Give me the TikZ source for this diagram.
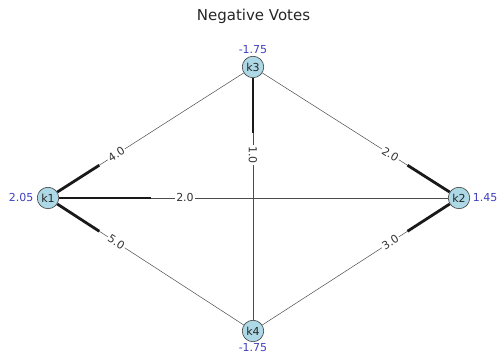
\documentclass[tikz,border=0pt]{standalone}
\usepackage{fontspec}
\setmainfont{DejaVu Sans}
\definecolor{nodeblue}{HTML}{ADD8E6}
\definecolor{votecol}{HTML}{4040BF}
\begin{document}
\begin{tikzpicture}[x=1pt, y=-1pt, font=\fontsize{11}{13}\selectfont, line join=round,
	vertex/.style={circle, draw=black!75, fill=nodeblue, inner sep=0pt, minimum size=21.5pt, line width=0.6pt, text=black!85},
	thinedge/.style={draw=black!70, line width=0.5pt},
	thickedge/.style={draw=black!90, line width=2.8pt},
	weight/.style={fill=white, inner sep=1.2pt, sloped, text=black!80},
	vote/.style={text=votecol}]
	\useasboundingbox (0,0) rectangle (499,352);
	\node[anchor=base, text=black!85, font=\fontsize{15}{18}\selectfont] (title) at (253.5,21) {Negative Votes};
	\foreach \n/\x/\y in {k1/48/198, k2/459/198, k3/253/67, k4/253/331}
		\node[vertex] (\n) at (\x,\y) {\n};
	% votes
	\node[vote, anchor=east] (v1) at (k1.west) {2.05};
	\node[vote, anchor=west, inner sep=2.6pt] (v2) at (k2.east) {1.45};
	\node[vote, anchor=south, inner sep=2.5pt] (v3) at (k3.north) {-1.75};
	\node[vote, anchor=north, inner sep=1.5pt] (v4) at (k4.south) {-1.75};
	% edges, thick end at the source
	\foreach \s/\t/\w in {k1/k3/4.0, k3/k4/1.0, k1/k2/2.0, k2/k3/2.0, k1/k4/5.0, k2/k4/3.0} {
		\draw[thinedge] (\s) -- (\t);
		\path (\s.center) -- (\t.center) coordinate[pos=0.25] (\s\t q);
		\draw[thickedge] (\s) -- (\s\t q);
		\path (\s.center) -- (\t.center) node[weight, pos=1/3] (\s\t w) {\w};
	}
\end{tikzpicture}
\end{document}
